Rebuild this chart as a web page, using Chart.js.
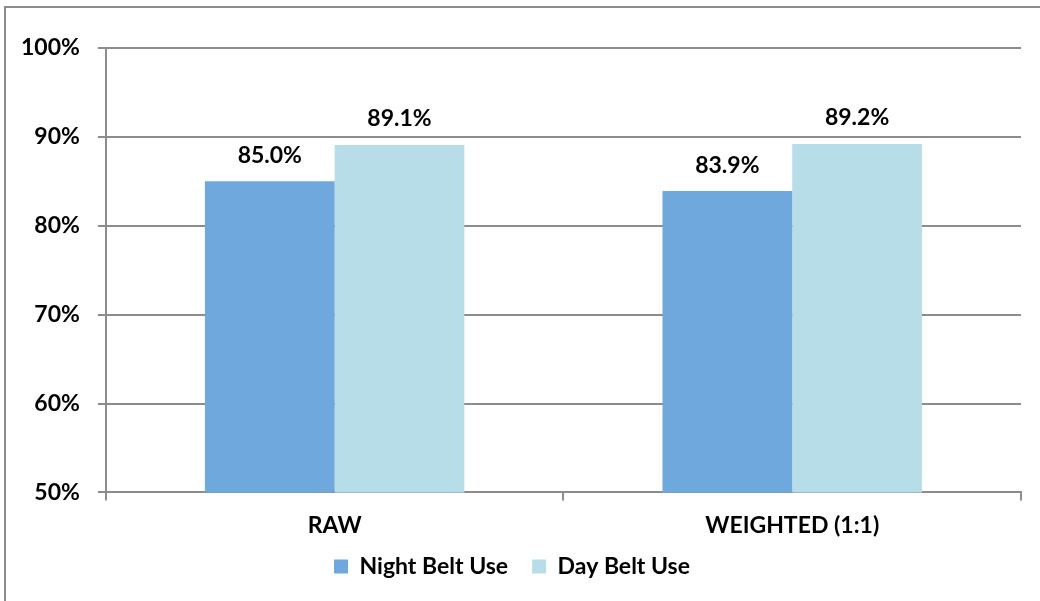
<!DOCTYPE html>
<html>
<head>
<meta charset="utf-8">
<script src="https://cdn.jsdelivr.net/npm/chart.js@4"></script>
<style>
  html, body { margin: 0; padding: 0; background: #ffffff; }
  #wrap { width: 1040px; height: 601px; position: relative; }
</style>
</head>
<body>
<div id="wrap"><canvas id="c"></canvas></div>
<script>
const categories = ["RAW", "WEIGHTED (1:1)"];
const nightBeltUse = [85.0, 83.9];
const dayBeltUse = [89.1, 89.2];
const yTicks = [50, 60, 70, 80, 90, 100];

const FONT = "Lato, 'Open Sans', sans-serif";
const FS = 23;
const AXIS_TRIM = 19;

const frame = {
  id: 'frame',
  beforeDraw(chart) {
    const ctx = chart.ctx;
    ctx.save();
    ctx.fillStyle = '#ffffff';
    ctx.fillRect(0, 0, chart.width, chart.height);
    ctx.strokeStyle = '#8c8c8c';
    ctx.lineWidth = 2;
    ctx.beginPath();
    ctx.moveTo(5, chart.height);
    ctx.lineTo(5, 7);
    ctx.lineTo(chart.width, 7);
    ctx.stroke();
    ctx.restore();
  }
};

const unclipAxis = {
  id: 'unclipAxis',
  afterLayout(chart) {
    chart.scales.x.bottom += AXIS_TRIM;
  }
};

const valueLabels = {
  id: 'valueLabels',
  afterDatasetsDraw(chart) {
    const ctx = chart.ctx;
    ctx.save();
    ctx.font = "bold " + FS + "px " + FONT;
    ctx.fillStyle = '#000000';
    ctx.textAlign = 'center';
    ctx.textBaseline = 'middle';
    chart.data.datasets.forEach((ds, di) => {
      chart.getDatasetMeta(di).data.forEach((bar, i) => {
        ctx.fillText(ds.data[i].toFixed(1) + '%', bar.x, bar.y - 26);
      });
    });
    ctx.restore();
  }
};

new Chart(document.getElementById('c'), {
  type: 'bar',
  data: {
    labels: categories,
    datasets: [
      { label: 'Night Belt Use', data: nightBeltUse, backgroundColor: '#6FA8DC', borderWidth: 0 },
      { label: 'Day Belt Use', data: dayBeltUse, backgroundColor: '#B7DDE8', borderWidth: 0 }
    ]
  },
  options: {
    responsive: true,
    maintainAspectRatio: false,
    animation: false,
    devicePixelRatio: 1,
    layout: { padding: { left: 3, right: 19, top: 48, bottom: 13 } },
    datasets: { bar: { categoryPercentage: 0.567, barPercentage: 1.0 } },
    plugins: {
      legend: {
        position: 'bottom',
        labels: {
          boxWidth: 14, boxHeight: 14, padding: 24,
          color: '#000000',
          font: { family: FONT, size: FS, weight: 'bold' }
        }
      },
      tooltip: { enabled: false }
    },
    scales: {
      x: {
        afterFit(axis) { axis.height -= AXIS_TRIM; },
        grid: { offset: true, drawOnChartArea: false, drawTicks: true, tickLength: 8, color: '#8c8c8c', lineWidth: 2 },
        border: { color: '#8c8c8c', width: 2 },
        ticks: { color: '#000000', padding: 11, font: { family: FONT, size: FS, weight: 'bold' } }
      },
      y: {
        min: 50, max: 100,
        afterBuildTicks(axis) { axis.ticks = yTicks.map(v => ({ value: v })); },
        grid: { color: '#8c8c8c', lineWidth: 2, tickLength: 8 },
        border: { color: '#8c8c8c', width: 2 },
        ticks: { color: '#000000', padding: 18, font: { family: FONT, size: FS, weight: 'bold' },
                 callback: v => v + '%' }
      }
    }
  },
  plugins: [frame, unclipAxis, valueLabels]
});
</script>
</body>
</html>
